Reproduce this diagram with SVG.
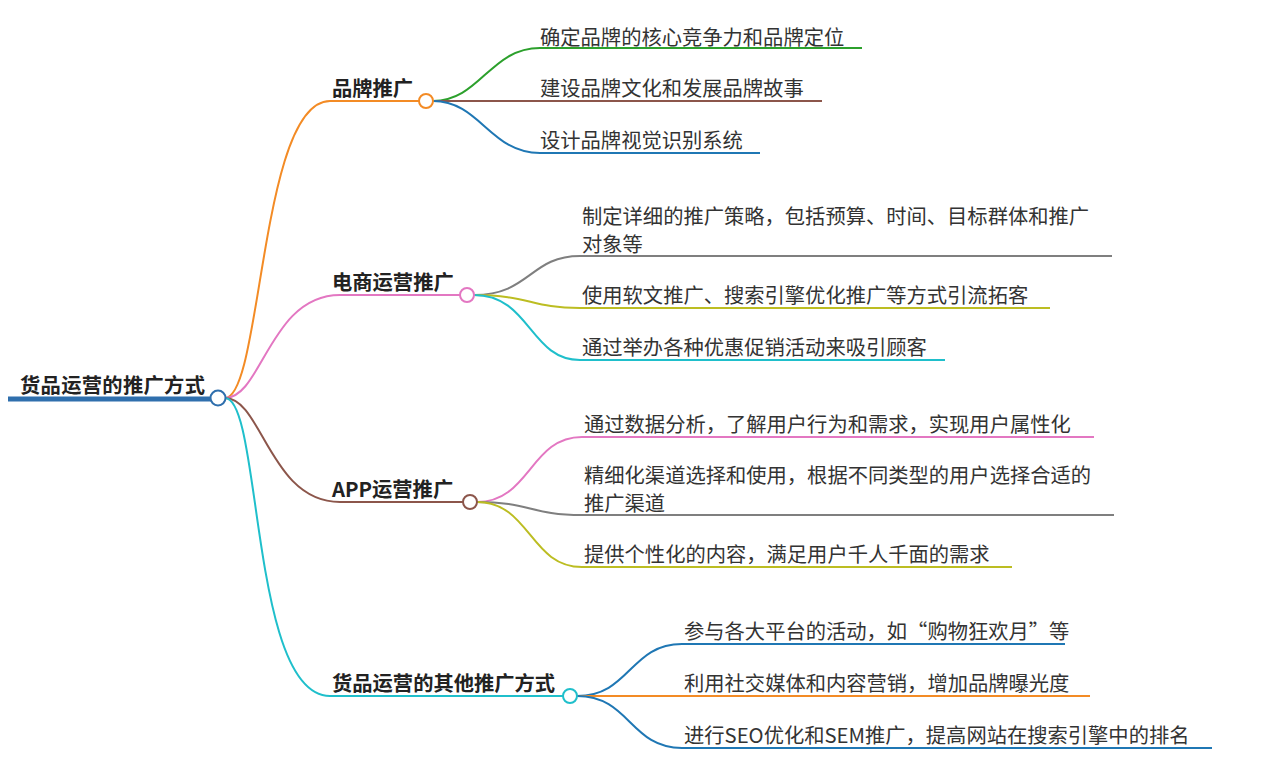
<svg xmlns="http://www.w3.org/2000/svg" width="1262" height="775" viewBox="0 0 1262 775">
<style>
text{font-family:"Noto Sans CJK SC","Noto Sans",sans-serif;font-size:20.3px;fill:#333}
.b{font-weight:bold;fill:#222}
path,line{fill:none;stroke-width:2}
circle{fill:#fff;stroke-width:2}
</style>
<rect width="1262" height="775" fill="#fff"/>
<g id="connectors">
<line x1="8" y1="399" x2="212" y2="399" stroke="#2f6fad" style="stroke-width:5"/>
<path d="M225,398 C262,398 260,101 330,101 L419,101" stroke="#f38b25"/>
<path d="M225,398 C262,398 270,295 340,295 L460,295" stroke="#e377c2"/>
<path d="M225,398 C262,398 270,502 340,502 L463,502" stroke="#8c564b"/>
<path d="M225,398 C262,398 250,696 330,696 L563,696" stroke="#1fbfcb"/>
<path d="M433,101 C480,101 490,48 540,48 L862,48" stroke="#2ca02c"/>
<path d="M433,101 L822,101" stroke="#8c564b"/>
<path d="M433,101 C480,101 490,153 540,153 L760,153" stroke="#1f77b4"/>
<path d="M474,295 C530,295 530,256 580,256 L1112,256" stroke="#7f7f7f"/>
<path d="M474,295 C530,295 530,308 580,308 L1050,308" stroke="#bcbd22"/>
<path d="M474,295 C530,295 530,360 580,360 L945,360" stroke="#1fbfcb"/>
<path d="M477,502 C530,502 530,437 582,437 L1094,437" stroke="#e377c2"/>
<path d="M477,502 C530,502 530,515 582,515 L1114,515" stroke="#7f7f7f"/>
<path d="M477,502 C530,502 530,567 582,567 L1012,567" stroke="#bcbd22"/>
<path d="M577,696 C630,696 630,644 682,644 L1065,644" stroke="#1f77b4"/>
<path d="M577,696 L1090,696" stroke="#f38b25"/>
<path d="M577,696 C630,696 630,748 682,748 L1212,748" stroke="#1f77b4"/>
</g>
<g id="root"><text class="b" x="20" y="393" textLength="185">货品运营的推广方式</text><circle cx="218" cy="398" r="7.5" stroke="#2f6fad"/></g>
<g id="n1"><text class="b" x="332" y="96">品牌推广</text><circle cx="426" cy="101" r="7" stroke="#f38b25"/></g>
<g id="n2"><text class="b" x="332" y="290">电商运营推广</text><circle cx="467" cy="295" r="7" stroke="#e377c2"/></g>
<g id="n3"><text class="b" x="332" y="497">APP运营推广</text><circle cx="470" cy="502" r="7" stroke="#8c564b"/></g>
<g id="n4"><text class="b" x="332" y="691">货品运营的其他推广方式</text><circle cx="570" cy="696" r="7" stroke="#1fbfcb"/></g>
<g id="l1"><text x="540" y="45">确定品牌的核心竞争力和品牌定位</text></g>
<g id="l2"><text x="540" y="96">建设品牌文化和发展品牌故事</text></g>
<g id="l3"><text x="540" y="148">设计品牌视觉识别系统</text></g>
<g id="l4"><text x="582" y="224">制定详细的推广策略，包括预算、时间、目标群体和推广</text><text x="582" y="252">对象等</text></g>
<g id="l5"><text x="582" y="303">使用软文推广、搜索引擎优化推广等方式引流拓客</text></g>
<g id="l6"><text x="582" y="355">通过举办各种优惠促销活动来吸引顾客</text></g>
<g id="l7"><text x="584" y="432">通过数据分析，了解用户行为和需求，实现用户属性化</text></g>
<g id="l8"><text x="584" y="483">精细化渠道选择和使用，根据不同类型的用户选择合适的</text><text x="584" y="511">推广渠道</text></g>
<g id="l9"><text x="584" y="562">提供个性化的内容，满足用户千人千面的需求</text></g>
<g id="l10"><text x="684" y="639">参与各大平台的活动，如“购物狂欢月”等</text></g>
<g id="l11"><text x="684" y="691">利用社交媒体和内容营销，增加品牌曝光度</text></g>
<g id="l12"><text x="684" y="743">进行SEO优化和SEM推广，提高网站在搜索引擎中的排名</text></g>
</svg>
